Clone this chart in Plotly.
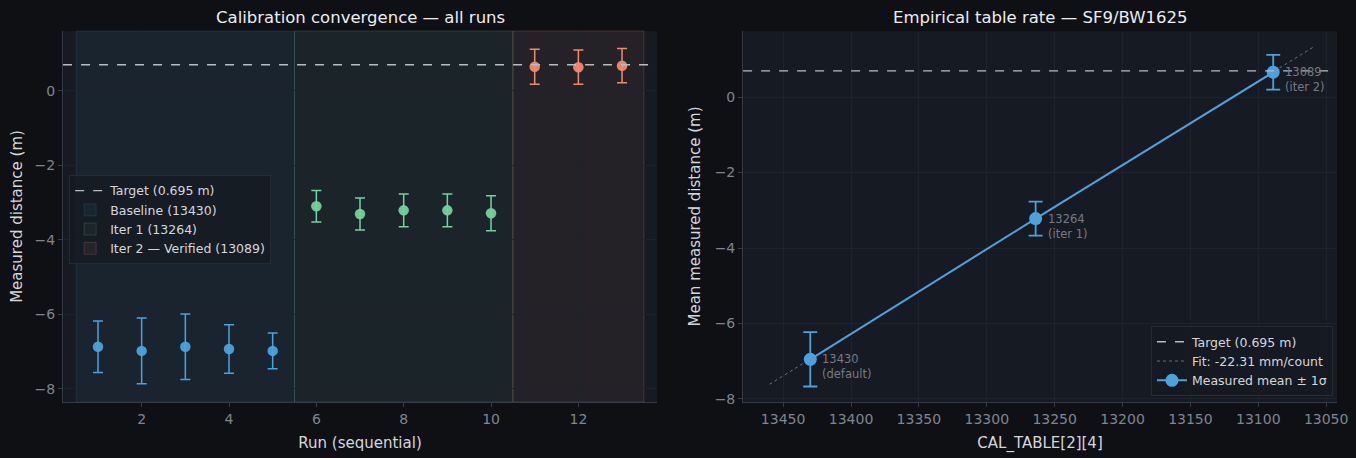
import numpy as np
import plotly.graph_objects as go

# ---- data ----
target = 0.695

runs_base = [1, 2, 3, 4, 5]
dist_base = [-6.87, -6.98, -6.87, -6.93, -6.98]
err_base = [0.69, 0.88, 0.88, 0.65, 0.48]

runs_it1 = [6, 7, 8, 9, 10]
dist_it1 = [-3.10, -3.31, -3.21, -3.21, -3.29]
err_it1 = [0.42, 0.43, 0.44, 0.44, 0.47]

runs_it2 = [11, 12, 13]
dist_it2 = [0.64, 0.63, 0.67]
err_it2 = [0.47, 0.46, 0.46]

cal_vals = [13430, 13264, 13089]
cal_tags = ['default', 'iter 1', 'iter 2']
cal_mean = [-6.95, -3.22, 0.658]
cal_std = [0.72, 0.45, 0.46]

# colours
BG = '#0e1014'
PLOT_BG = '#161a22'
GRID = '#1d222b'
SPINE = '#363b46'
TICK = '#80858f'
TXT = '#d4d7dc'
BLUE = '#4aa3df'
GREEN = '#74d39b'
ORANGE = '#f08a6c'

fig = go.Figure()

# left panel: regions
regions = [
    (runs_base, 'Baseline (13430)', 'rgba(74,163,223,0.07)', 'rgba(74,163,223,0.15)'),
    (runs_it1, 'Iter 1 (13264)', 'rgba(116,211,155,0.06)', 'rgba(116,211,155,0.18)'),
    (runs_it2, 'Iter 2 — Verified (13089)', 'rgba(240,138,108,0.07)', 'rgba(240,138,108,0.20)'),
]
for i, (r, name, fc, lc) in enumerate(regions):
    fig.add_shape(type='rect', xref='x', yref='y domain', x0=min(r) - 0.5, x1=max(r) + 0.5,
                  y0=0, y1=1, fillcolor=fc, line=dict(color=lc, width=1), layer='below',
                  showlegend=True, name=name, legend='legend', legendrank=2 + i)

fig.add_shape(type='line', xref='x domain', yref='y', x0=0, x1=1, y0=target, y1=target,
              line=dict(color='#b8bcc4', width=1.4, dash='dash'),
              showlegend=True, name='Target (0.695 m)', legend='legend', legendrank=1)

for r, d, e, c in [(runs_base, dist_base, err_base, BLUE),
                   (runs_it1, dist_it1, err_it1, GREEN),
                   (runs_it2, dist_it2, err_it2, ORANGE)]:
    fig.add_trace(go.Scatter(x=r, y=d, mode='markers', showlegend=False,
                             marker=dict(color=c, size=10.5, opacity=0.95),
                             error_y=dict(type='data', array=e, color=c, thickness=1.5, width=5),
                             xaxis='x', yaxis='y'))

# right panel
p = np.polyfit(cal_vals, cal_mean, 1)
xf = np.array([max(cal_vals) + 30, min(cal_vals) - 30])
slope_mm = p[0] * 1000

fig.add_shape(type='line', xref='x2 domain', yref='y2', x0=0, x1=1, y0=target, y1=target,
              line=dict(color='#b8bcc4', width=1.4, dash='dash'),
              showlegend=True, name='Target (0.695 m)', legend='legend2', legendrank=1)
fig.add_trace(go.Scatter(x=xf, y=np.polyval(p, xf), mode='lines', name='Fit: %.2f mm/count' % slope_mm,
                         line=dict(color='#6a707a', width=1, dash='dot'),
                         xaxis='x2', yaxis='y2', legend='legend2', legendrank=2))
fig.add_trace(go.Scatter(x=cal_vals, y=cal_mean, mode='lines+markers', name='Measured mean ± 1σ',
                         line=dict(color=BLUE, width=2), marker=dict(color=BLUE, size=13),
                         error_y=dict(type='data', array=cal_std, color=BLUE, thickness=1.8, width=7),
                         xaxis='x2', yaxis='y2', legend='legend2', legendrank=3))

for v, t, m in zip(cal_vals, cal_tags, cal_mean):
    fig.add_annotation(x=v, y=m, xref='x2', yref='y2', text='%d<br>(%s)' % (v, t),
                       showarrow=False, xanchor='left', yanchor='top', xshift=10, yshift=9,
                       align='left', font=dict(size=11.5, color='#757b85'))

# titles
fig.add_annotation(x=0.2655, y=0.961, xref='paper', yref='paper', showarrow=False,
                   xanchor='center', yanchor='middle',
                   text='Calibration convergence — all runs', font=dict(size=16.5, color='#eceef1'))
fig.add_annotation(x=0.767, y=0.961, xref='paper', yref='paper', showarrow=False,
                   xanchor='center', yanchor='middle',
                   text='Empirical table rate — SF9/BW1625', font=dict(size=16.5, color='#eceef1'))

ax = dict(showgrid=True, gridcolor=GRID, gridwidth=1, zeroline=False, showline=True,
          linecolor=SPINE, linewidth=1, ticks='outside', ticklen=4, tickcolor=SPINE,
          automargin=False,
          tickfont=dict(size=14, color=TICK), title_font=dict(size=15, color=TXT))

fig.update_layout(
    width=1356, height=458,
    paper_bgcolor=BG, plot_bgcolor=PLOT_BG,
    font=dict(family='DejaVu Sans', color=TXT),
    margin=dict(l=0, r=0, t=0, b=0),
    xaxis=dict(ax, domain=[0.0465, 0.4845], range=[0.2, 13.8], tickvals=[2, 4, 6, 8, 10, 12],
               title=dict(text='Run (sequential)', standoff=11), anchor='y'),
    yaxis=dict(ax, domain=[0.1223, 0.9323], range=[-8.35, 1.6], tickvals=[-8, -6, -4, -2, 0],
               title=dict(text='Measured distance (m)', standoff=8), anchor='x'),
    xaxis2=dict(ax, domain=[0.548, 0.986], range=[13479.5, 13042], dtick=50, tickformat='d',
                title=dict(text='CAL_TABLE[2][4]', standoff=11), anchor='y2'),
    yaxis2=dict(ax, domain=[0.1223, 0.9323], range=[-8.08, 1.75], tickvals=[-8, -6, -4, -2, 0],
                title=dict(text='Mean measured distance (m)', standoff=10), anchor='x2'),
    legend=dict(x=0.051, y=0.618, xanchor='left', yanchor='top', bgcolor='rgba(22,26,34,0.75)',
                bordercolor='#252a33', borderwidth=1, font=dict(size=12.5, color=TXT),
                tracegroupgap=0, itemwidth=30),
    legend2=dict(x=0.983, y=0.135, xanchor='right', yanchor='bottom', bgcolor='rgba(22,26,34,0.75)',
                 bordercolor='#252a33', borderwidth=1, font=dict(size=12.5, color=TXT),
                 tracegroupgap=0, itemwidth=30),
)

page_js = ("document.documentElement.style.margin='0';document.documentElement.style.overflow='hidden';"
           "document.body.style.margin='0';document.body.style.overflow='hidden';"
           "document.body.style.height='458px';document.body.style.background='%s';" % BG)
fig.write_html('out.html', config={'displayModeBar': False}, post_script=page_js)
